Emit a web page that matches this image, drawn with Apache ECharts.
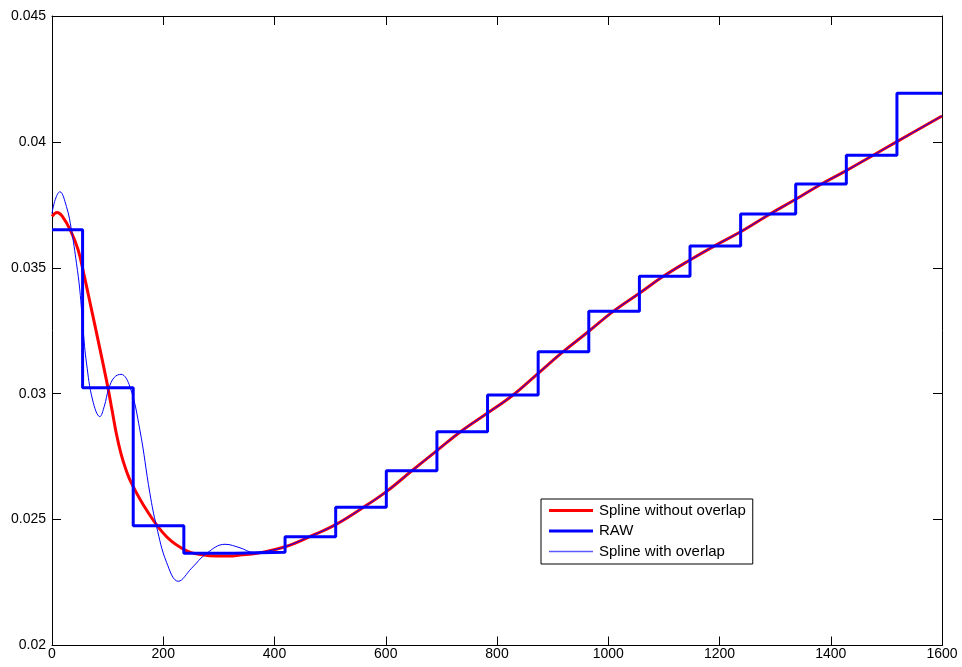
<!DOCTYPE html>
<html>
<head>
<meta charset="utf-8">
<title>Spline vs RAW</title>
<script src="https://cdn.jsdelivr.net/npm/echarts@6/dist/echarts.min.js"></script>
<style>
  html, body { margin: 0; padding: 0; background: #ffffff; }
  #chart { width: 962px; height: 667px; }
</style>
</head>
<body>
<div id="chart"></div>
<script>
// RAW signal: step edges (x where each level starts) and the held levels
const rawEdges = [0, 55, 146, 237, 328, 419, 510, 601, 692, 783, 874, 965, 1056, 1147, 1238, 1337, 1428, 1519, 1600];
const rawLevels = [0.03651, 0.03024, 0.02476, 0.02366, 0.02370, 0.02432, 0.02549, 0.02694, 0.02849, 0.02995,
                   0.03167, 0.03327, 0.03466, 0.03587, 0.03714, 0.03833, 0.03947, 0.04193, 0.04193];

// Spline fitted without overlap
const splineNoOverlapX = [0, 9, 18, 34, 47, 57, 70, 85, 100, 108, 116, 124, 133, 143, 170, 206, 242, 270, 296, 320,
                          338, 368, 419, 470, 509, 560, 601, 647, 692, 735, 783, 829, 874, 919, 964, 1009, 1056,
                          1099, 1147, 1192, 1238, 1288, 1337, 1381, 1428, 1474, 1519, 1600];
const splineNoOverlapY = [0.03704, 0.03720, 0.03706, 0.03645, 0.03571, 0.03478, 0.03345, 0.03190, 0.03030, 0.02934,
                          0.02838, 0.02762, 0.02698, 0.02644, 0.02538, 0.02432, 0.02376, 0.02360, 0.02355, 0.02355,
                          0.02359, 0.02366, 0.02392, 0.02439, 0.02479, 0.02549, 0.02611, 0.02694, 0.02774, 0.02850,
                          0.02923, 0.02995, 0.03081, 0.03167, 0.03246, 0.03327, 0.03399, 0.03466, 0.03531, 0.03588,
                          0.03643, 0.03710, 0.03772, 0.03830, 0.03886, 0.03944, 0.04001, 0.04103];

// Spline fitted with overlap
const splineOverlapX = [0, 6, 14, 26, 35, 44, 50, 56, 62, 73, 86, 94, 102, 112, 124, 140, 158, 176, 188, 206, 227,
                        251, 278, 311, 338, 362, 390, 419, 470, 509, 560, 601, 647, 692, 735, 783, 829, 874, 919,
                        964, 1009, 1056, 1099, 1147, 1192, 1238, 1288, 1337, 1381, 1428, 1474, 1519, 1600];
const splineOverlapY = [0.03716, 0.03772, 0.03802, 0.03743, 0.03650, 0.03518, 0.03412, 0.03253, 0.03122, 0.02975,
                        0.02909, 0.02950, 0.03020, 0.03065, 0.03077, 0.03028, 0.02856, 0.02604, 0.02472, 0.02330,
                        0.02255, 0.02307, 0.02366, 0.02402, 0.02388, 0.02370, 0.02376, 0.02392, 0.02439, 0.02479,
                        0.02549, 0.02611, 0.02694, 0.02774, 0.02850, 0.02923, 0.02995, 0.03081, 0.03167, 0.03246,
                        0.03327, 0.03399, 0.03466, 0.03531, 0.03588, 0.03643, 0.03710, 0.03772, 0.03830, 0.03886,
                        0.03944, 0.04001, 0.04103];

const xTicks = { min: 0, max: 1600, interval: 200 };
const yTicks = { min: 0.02, max: 0.045, interval: 0.005 };

const pairs = (xs, ys) => xs.map((x, i) => [x, ys[i]]);

const FONT = '"Liberation Sans", Arial, Helvetica, sans-serif';
const AXIS_COLOR = '#000000';

function axisBase(extra) {
  return Object.assign({
    type: 'value',
    axisLine: { show: true, onZero: false, lineStyle: { color: AXIS_COLOR, width: 1 } },
    axisTick: { show: true, inside: true, length: 9, lineStyle: { color: AXIS_COLOR, width: 1 } },
    splitLine: { show: false }
  }, extra);
}

// Flat bar glyphs for the legend keys (thick and thin line samples)
const THICK_KEY = 'path://M0,0H44V3H0Z';
const THIN_KEY = 'path://M0,0H44V1.5H0Z';

const chart = echarts.init(document.getElementById('chart'), null, { renderer: 'canvas' });

chart.setOption({
  backgroundColor: '#ffffff',
  animation: false,
  grid: { left: 52, top: 16, right: 20, bottom: 21.5, containLabel: false },
  xAxis: [
    axisBase({
      position: 'bottom',
      min: xTicks.min, max: xTicks.max, interval: xTicks.interval,
      axisLabel: {
        show: true, color: '#000', fontFamily: FONT, fontSize: 14, margin: 2,
        formatter: v => String(Math.round(v))
      }
    }),
    axisBase({
      position: 'top',
      min: xTicks.min, max: xTicks.max, interval: xTicks.interval,
      axisLabel: { show: false }
    })
  ],
  yAxis: [
    axisBase({
      position: 'left',
      min: yTicks.min, max: yTicks.max, interval: yTicks.interval,
      axisLabel: {
        show: true, color: '#000', fontFamily: FONT, fontSize: 14, margin: 6,
        formatter: v => String(+v.toFixed(3))
      }
    }),
    axisBase({
      position: 'right',
      min: yTicks.min, max: yTicks.max, interval: yTicks.interval,
      axisLabel: { show: false }
    })
  ],
  legend: {
    orient: 'vertical',
    left: 541,
    top: 499,
    padding: [4, 7, 5, 8],
    itemWidth: 44,
    itemHeight: 14,
    itemGap: 5.5,
    symbolKeepAspect: true,
    backgroundColor: '#ffffff',
    borderColor: '#000000',
    borderWidth: 1,
    borderRadius: 0,
    textStyle: { color: '#000', fontFamily: FONT, fontSize: 15, lineHeight: 15, padding: [0, 0, 0, 1] },
    data: [
      { name: 'Spline without overlap', icon: THICK_KEY, itemStyle: { color: '#ff0000' } },
      { name: 'RAW', icon: THICK_KEY, itemStyle: { color: '#0000ff' } },
      { name: 'Spline with overlap', icon: THIN_KEY, itemStyle: { color: '#5a5aff' } }
    ]
  },
  series: [
    {
      name: 'Spline without overlap',
      type: 'line',
      data: pairs(splineNoOverlapX, splineNoOverlapY),
      smooth: 0.4,
      symbol: 'none',
      lineStyle: { color: '#ff0000', width: 3 },
      itemStyle: { color: '#ff0000' },
      z: 2
    },
    {
      name: 'RAW',
      type: 'line',
      data: pairs(rawEdges, rawLevels),
      step: 'end',
      symbol: 'none',
      lineStyle: { color: '#0000ff', width: 3 },
      itemStyle: { color: '#0000ff' },
      z: 3
    },
    {
      name: 'Spline with overlap',
      type: 'line',
      data: pairs(splineOverlapX, splineOverlapY),
      smooth: 0.4,
      symbol: 'none',
      lineStyle: { color: '#0000ff', width: 1 },
      itemStyle: { color: '#0000ff' },
      z: 4
    }
  ]
});
</script>
</body>
</html>
